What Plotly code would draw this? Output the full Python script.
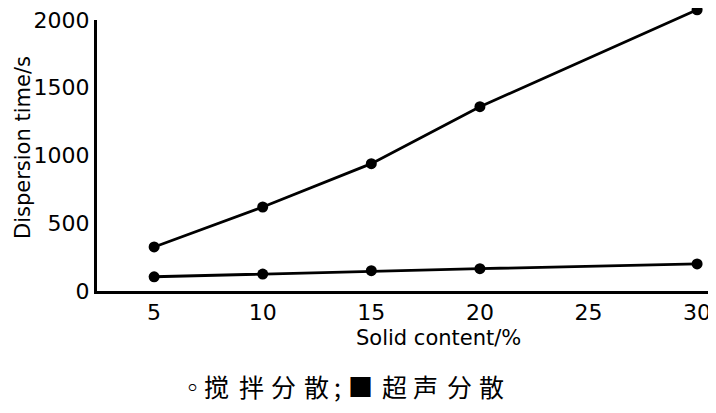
import plotly.graph_objects as go

solid_content = [5, 10, 15, 20, 30]
stirring_time = [325, 620, 940, 1360, 2075]
ultrasonic_time = [105, 125, 150, 165, 200]

x_ticks = [5, 10, 15, 20, 25, 30]
y_ticks = [0, 500, 1000, 1500, 2000]

x_title = "Solid content/%"
y_title = "Dispersion time/s"
legend_chars = ["◦", "搅", "拌", "分", "散", ";", "■", "超", "声", "分", "散"]
legend_px = [192, 216, 251, 283, 316, 337, 360, 394, 425, 459, 491]

OFF = 8  # page body margin
W, H = 716 - OFF, 413 - OFF
L = 97 - OFF
AXTOP = 20 - OFF          # top of the visible y axis (figure px)
BOT = 291 - OFF           # x axis position (figure px)
T, R, B = 0, 0, H - BOT
pw = W - L - R
ph = H - T - B
vis_frac = (BOT - AXTOP) / ph
y_max = 2000
data_top = y_max / vis_frac


def px_x(px):
    return (px - OFF - L) / pw


def px_y(py):
    return (BOT - (py - OFF)) / ph


fig = go.Figure()
# empty trace so the visible (x, y) axis pair is created
fig.add_trace(go.Scatter(x=[], y=[], showlegend=False, hoverinfo="skip"))
line_style = dict(color="black", width=2.8)
marker_style = dict(color="black", size=11, symbol="circle")
fig.add_trace(go.Scatter(x=solid_content, y=stirring_time, mode="lines+markers",
                         line=line_style, marker=marker_style, cliponaxis=False,
                         showlegend=False, yaxis="y2"))
fig.add_trace(go.Scatter(x=solid_content, y=ultrasonic_time, mode="lines+markers",
                         line=line_style, marker=marker_style, cliponaxis=False,
                         showlegend=False, yaxis="y2"))

tickfont = dict(family="DejaVu Sans", size=22, color="black")
fig.update_layout(
    xaxis=dict(range=[2.37, 30.87], tickvals=x_ticks, ticks="inside", ticklen=8,
               tickwidth=2.5, tickcolor="black", showline=True, linewidth=3,
               linecolor="black", showgrid=False, zeroline=False, tickfont=tickfont,
               ticklabeloverflow="allow", anchor="y", automargin=False,
               minor=dict(dtick=2.5, tick0=0, ticks="inside", ticklen=4, tickwidth=2,
                          tickcolor="black", showgrid=False)),
    yaxis=dict(range=[0, y_max], domain=[0, vis_frac], tickvals=y_ticks, ticks="inside",
               ticklen=8, tickwidth=2.5, tickcolor="black", showline=True, linewidth=3,
               linecolor="black", showgrid=False, zeroline=False, tickfont=tickfont,
               ticklabeloverflow="allow", anchor="x", automargin=False,
               minor=dict(dtick=250, tick0=0, ticks="inside", ticklen=4, tickwidth=2,
                          tickcolor="black", showgrid=False)),
    yaxis2=dict(range=[0, data_top], domain=[0, 1], anchor="x", visible=False,
                showgrid=False, zeroline=False, automargin=False),
)

titlefont = dict(family="DejaVu Sans", size=21, color="black")
annotations = [
    dict(text=x_title, xref="paper", yref="paper", x=px_x(438), y=px_y(338),
         showarrow=False, font=titlefont, xanchor="center", yanchor="middle"),
    dict(text=y_title, xref="paper", yref="paper", x=px_x(23), y=px_y(148),
         showarrow=False, textangle=-90, font=titlefont,
         xanchor="center", yanchor="middle"),
]
for ch, px in zip(legend_chars, legend_px):
    annotations.append(dict(text=ch, xref="paper", yref="paper", x=px_x(px),
                            y=px_y(386), showarrow=False,
                            font=dict(family="Noto Sans CJK SC", size=25, color="black"),
                            xanchor="center", yanchor="middle"))

fig.update_layout(width=W, height=H, margin=dict(l=L, r=R, t=T, b=B),
                  plot_bgcolor="white", paper_bgcolor="white", annotations=annotations)

fig.write_html("out.html")
